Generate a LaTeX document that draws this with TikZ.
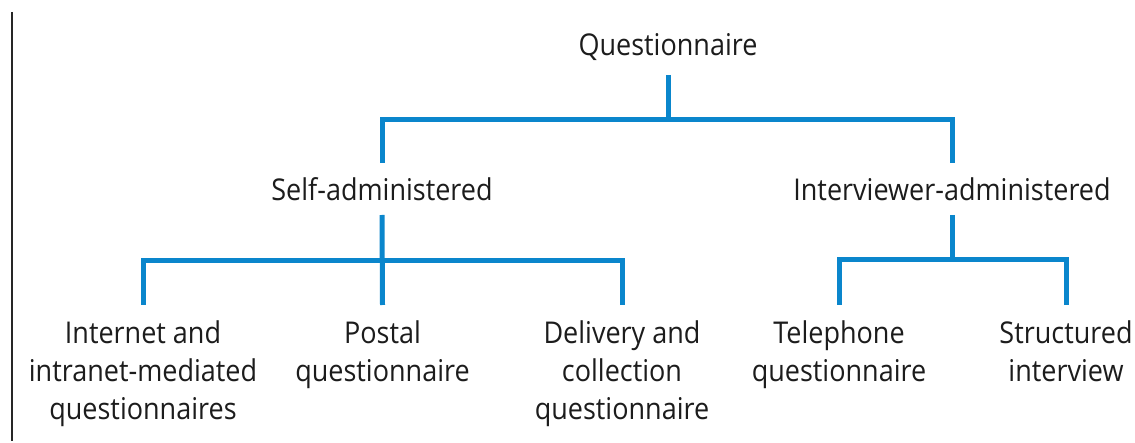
\documentclass[tikz,border=0pt]{standalone}
\usepackage{fontspec}
\setmainfont{Open Sans}[FakeStretch=0.9]
\definecolor{linkblue}{RGB}{10,134,204}
\definecolor{labelgray}{RGB}{28,28,28}

\begin{document}
\begin{tikzpicture}[x=1pt,y=-1pt,
  label/.style={font=\fontsize{30}{38.5}\selectfont, text=labelgray,
                align=center, inner sep=0pt, anchor=base},
  link/.style={draw=linkblue, line width=5pt, line join=miter}]
\useasboundingbox (0,0) rectangle (1135,443);

% margin rule on the left
\draw[line width=1.3pt, black!85] (12,12) -- (12,441);

% labels (anchored at the baseline of their last line)
\node[label] (q)      at (668,56)  {Questionnaire};
\node[label] (self)   at (382,201) {Self-administered};
\node[label] (int)    at (952,201) {Interviewer-administered};
\node[label] (web)    at (143,420) {Internet and\\intranet-mediated\\questionnaires};
\node[label] (post)   at (382.5,381.5) {Postal\\questionnaire};
\node[label] (deliv)  at (622,420) {Delivery and\\collection\\questionnaire};
\node[label] (tel)    at (839,381.5) {Telephone\\questionnaire};
\node[label] (struct) at (1066,381.5) {Structured\\interview};

% top level
\draw[link] (q.south |- 0,75) -- (q.south |- 0,122);
\draw[link] (self.north |- 0,163) -- (self.north |- 0,120)
            -- (int.north |- 0,120) -- (int.north |- 0,163);

% self-administered branch
\draw[link] (self.south |- 0,215) -- (post.north |- 0,305);
\draw[link] (web.north |- 0,305) -- (web.north |- 0,261)
            -- (deliv.north |- 0,261) -- (deliv.north |- 0,305);

% interviewer-administered branch
\draw[link] (int.south |- 0,215) -- (int.south |- 0,262);
\draw[link] (tel.north |- 0,305) -- (tel.north |- 0,260)
            -- (struct.north |- 0,260) -- (struct.north |- 0,305);
\end{tikzpicture}
\end{document}
